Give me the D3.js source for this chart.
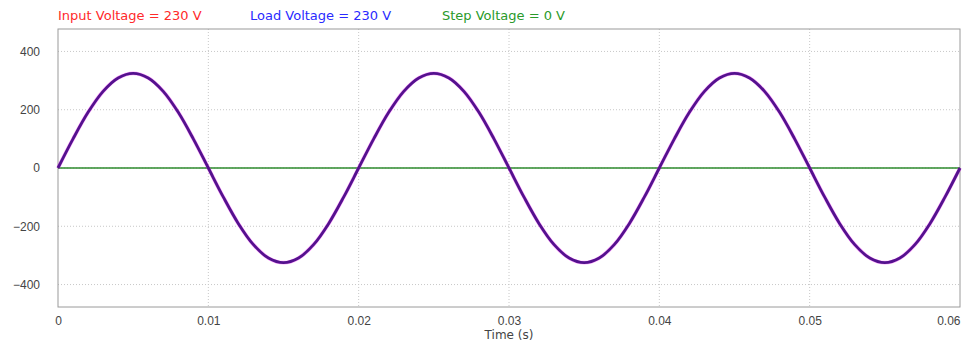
<!DOCTYPE html>
<html>
<head>
<meta charset="utf-8">
<script src="https://cdn.jsdelivr.net/npm/d3@7"></script>
<style>
  body { margin: 0; background: #fff; }
  svg { display: block; font-family: "DejaVu Sans", Verdana, sans-serif; }
</style>
</head>
<body>
<div id="chart"></div>
<script>
// sample times (s), every 1 ms
const time = d3.range(0, 61).map(i => i / 1000);
// voltage at each sample time (V)
const inputVoltage = [
  0, 100, 191, 263, 309, 325, 309, 263, 191, 100,
  0, -100, -191, -263, -309, -325, -309, -263, -191, -100,
  0, 100, 191, 263, 309, 325, 309, 263, 191, 100,
  0, -100, -191, -263, -309, -325, -309, -263, -191, -100,
  0, 100, 191, 263, 309, 325, 309, 263, 191, 100,
  0, -100, -191, -263, -309, -325, -309, -263, -191, -100,
  0
];
const loadVoltage = inputVoltage.slice();
const stepVoltage = time.map(() => 0);
const xTicks = [0, 0.01, 0.02, 0.03, 0.04, 0.05, 0.06];
const yTicks = [400, 200, 0, -200, -400];
const legendLabels = ['Input Voltage = 230 V', 'Load Voltage = 230 V', 'Step Voltage = 0 V'];

const width = 968, height = 345;
const margin = { top: 29, right: 8, bottom: 38, left: 58 };
const w = width - margin.left - margin.right;
const h = height - margin.top - margin.bottom;

const svg = d3.select('#chart').append('svg')
  .attr('width', width)
  .attr('height', height);

const g = svg.append('g')
  .attr('transform', `translate(${margin.left}, ${margin.top})`);

const x = d3.scaleLinear().domain([0, 0.06]).range([0, w]);
const y = d3.scaleLinear().domain([-477, 477]).range([h, 0]);

// grid
g.append('g').selectAll('line.vg').data(xTicks.slice(1, -1)).enter().append('line')
  .attr('x1', d => x(d)).attr('x2', d => x(d))
  .attr('y1', 0).attr('y2', h)
  .attr('stroke', '#c8c8c8').attr('stroke-dasharray', '1,2');
g.append('g').selectAll('line.hg').data(yTicks).enter().append('line')
  .attr('x1', 0).attr('x2', w)
  .attr('y1', d => y(d)).attr('y2', d => y(d))
  .attr('stroke', '#c8c8c8').attr('stroke-dasharray', '1,2');

// frame
g.append('rect')
  .attr('width', w).attr('height', h)
  .attr('fill', 'none').attr('stroke', '#9a9a9a').attr('stroke-width', 1);

// axes
const xAxis = g.append('g')
  .attr('transform', `translate(0, ${h})`)
  .call(d3.axisBottom(x).tickValues(xTicks).tickSize(0).tickPadding(9).tickFormat(d => d === 0 ? '0' : d3.format('.2f')(d)));
xAxis.select('.domain').remove();
xAxis.selectAll('text').attr('font-size', 12).attr('fill', '#444')
  .attr('text-anchor', d => d === 0.06 ? 'end' : 'middle');

const yAxis = g.append('g')
  .call(d3.axisLeft(y).tickValues(yTicks).tickSize(0).tickPadding(18));
yAxis.select('.domain').remove();
yAxis.selectAll('text').attr('font-size', 12).attr('fill', '#444');

g.append('text')
  .attr('x', w / 2).attr('y', h + 32)
  .attr('text-anchor', 'middle')
  .attr('font-size', 12).attr('fill', '#444')
  .text('Time (s)');

// traces
const line = (vals) => d3.line()
  .x((d, i) => x(time[i]))
  .y(d => y(d))
  .curve(d3.curveCatmullRom.alpha(0.5))(vals);

g.append('path').attr('d', line(stepVoltage))
  .attr('fill', 'none').attr('stroke', '#2e8b2e').attr('stroke-width', 1.6);
g.append('path').attr('d', line(inputVoltage))
  .attr('fill', 'none').attr('stroke', '#ff00ff').attr('stroke-width', 3.8).attr('stroke-opacity', 0.35);
g.append('path').attr('d', line(loadVoltage))
  .attr('fill', 'none').attr('stroke', '#54128e').attr('stroke-width', 2.8);

// legend
const legendX = [58, 250, 442];
const legendColor = ['#ff2a2a', '#2a2aff', '#2a9a2a'];
svg.append('g').selectAll('text').data(legendLabels).enter().append('text')
  .attr('x', (d, i) => legendX[i]).attr('y', 20)
  .attr('font-size', 13)
  .attr('fill', (d, i) => legendColor[i])
  .text(d => d);
</script>
</body>
</html>
